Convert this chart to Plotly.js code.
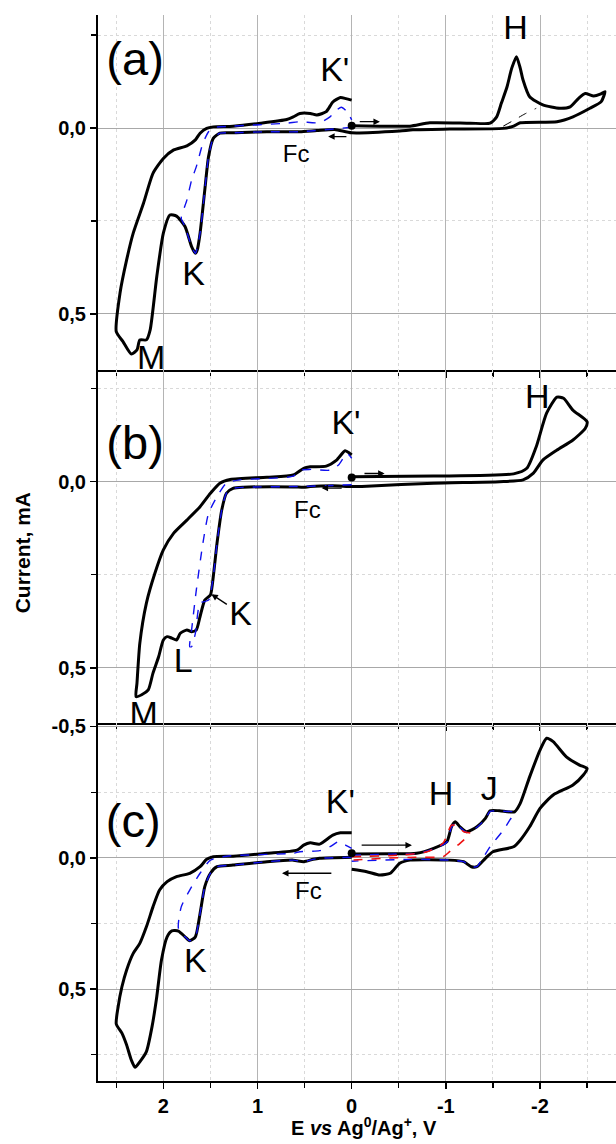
<!DOCTYPE html>
<html>
<head>
<meta charset="utf-8">
<script src="https://cdn.plot.ly/plotly-3.0.1.min.js"></script>
<style>html,body{margin:0;padding:0;background:#fff;}#chart{width:616px;height:1144px;}</style>
</head>
<body>
<div id="chart"></div>
<script>
// ---------- DATA (E in V vs Ag0/Ag+, current in mA) ----------
// Panel (a)
var aBlackE = [0,-0.30,-0.62,-0.83,-1.26,-1.47,-1.54,-1.59,-1.65,-1.70,-1.75,-1.79,-1.82,-1.89,-2.03,-2.21,-2.32,-2.41,-2.48,-2.57,-2.64,-2.69,-2.65,-2.53,-2.35,-2.18,-1.79,-1.72,-1.61,-1.04,-0.65,-0.51,0.00,0.18,0.37,0.55,0.62,0.90,1.26,1.40,1.47,1.52,1.56,1.61,1.64,1.66,1.70,1.77,1.86,1.93,2.00,2.07,2.14,2.18,2.25,2.28,2.34,2.43,2.50,2.46,2.39,2.32,2.21,2.11,2.00,1.89,1.75,1.66,1.61,1.54,1.47,1.26,0.97,0.69,0.62,0.55,0.44,0.37,0.27,0.20,0.12,0.06,0.00];
var aBlackI = [-0.006,-0.005,-0.005,-0.014,-0.013,-0.013,-0.030,-0.067,-0.111,-0.161,-0.192,-0.161,-0.129,-0.084,-0.062,-0.053,-0.057,-0.080,-0.093,-0.086,-0.091,-0.098,-0.071,-0.053,-0.030,-0.017,-0.014,-0.005,0.001,0.003,0.005,0.008,0.013,0.004,0.007,0.010,0.010,0.010,0.013,0.014,0.028,0.077,0.167,0.283,0.328,0.337,0.319,0.265,0.237,0.234,0.283,0.400,0.543,0.570,0.570,0.597,0.608,0.574,0.548,0.444,0.355,0.283,0.202,0.122,0.082,0.059,0.048,0.032,0.014,0.001,-0.003,-0.005,-0.013,-0.023,-0.030,-0.039,-0.039,-0.035,-0.044,-0.070,-0.082,-0.079,-0.075];
var aDashE = [-1.61,-1.73,-1.84,-1.96];
var aDashI = [-0.005,-0.022,-0.038,-0.053];
var aBlueE = [0.00,0.55,0.90,1.26,1.40,1.47,1.52,1.56,1.61,1.66,1.70,1.77,1.81,1.75,1.70,1.65,1.58,1.52,1.47,1.26,0.69,0.55,0.34,0.23,0.16,0.11,0.05,0.00];
var aBlueI = [-0.002,0.010,0.010,0.013,0.014,0.028,0.077,0.167,0.283,0.337,0.319,0.265,0.243,0.194,0.140,0.104,0.041,0.010,-0.001,-0.005,-0.013,-0.017,-0.014,-0.030,-0.048,-0.056,-0.044,-0.022];

// Panel (b)
var bBlackE = [0.00,-0.87,-1.72,-1.86,-1.96,-2.07,-2.18,-2.25,-2.35,-2.50,-2.48,-2.35,-2.18,-2.03,-1.93,-1.82,-1.57,-0.87,-0.16,0.00,
  0.20,0.44,0.51,0.62,1.15,1.26,1.33,1.38,1.43,1.47,1.50,1.56,1.61,1.65,1.70,1.75,1.82,1.86,1.91,1.96,2.00,2.05,2.11,2.16,2.23,2.29,2.28,2.25,2.18,2.09,2.00,1.89,1.75,1.61,1.50,1.40,1.29,0.90,0.62,0.51,0.44,0.27,0.16,0.07,0.02,0.00];
var bBlackI = [-0.013,-0.015,-0.021,-0.036,-0.094,-0.184,-0.227,-0.224,-0.192,-0.161,-0.143,-0.112,-0.085,-0.058,-0.023,-0.005,0.000,0.004,0.012,0.013,
  0.011,0.013,0.015,0.014,0.015,0.018,0.031,0.076,0.165,0.255,0.304,0.318,0.362,0.398,0.403,0.398,0.407,0.425,0.420,0.416,0.425,0.470,0.514,0.559,0.572,0.577,0.541,0.434,0.326,0.246,0.183,0.138,0.103,0.067,0.031,0.004,-0.006,-0.012,-0.018,-0.036,-0.040,-0.042,-0.058,-0.083,-0.076,-0.072];
var bBlueE = [0.00,0.20,0.44,0.62,1.15,1.26,1.33,1.38,1.43,1.47,1.52,1.61,1.66,1.70,1.72,1.70,1.65,1.58,1.52,1.43,1.33,1.19,0.62,0.55,0.44,0.23,0.14,0.05,0.00];
var bBlueI = [0.008,0.010,0.012,0.013,0.015,0.018,0.031,0.076,0.165,0.255,0.318,0.326,0.407,0.443,0.443,0.398,0.291,0.165,0.085,0.040,0.004,-0.005,-0.015,-0.031,-0.033,-0.031,-0.045,-0.076,-0.063];

// Panel (c)
var cBlackRightE = [0.00,-0.41,-0.69,-0.87,-1.01,-1.06,-1.10,-1.15,-1.22,-1.33,-1.42,-1.47,-1.57,-1.73,-1.79,-1.89,-2.00,-2.07,-2.14,-2.28,-2.42,-2.50,-2.46,-2.35,-2.14,-2.00,-1.89,-1.79,-1.72,-1.50,-1.42,-1.33,-1.27,-1.19,-1.04,-0.62,-0.51,-0.41,-0.30,-0.16,0.00];
var cBlackRightI = [-0.014,-0.015,-0.017,-0.036,-0.061,-0.118,-0.137,-0.118,-0.099,-0.118,-0.150,-0.179,-0.179,-0.175,-0.207,-0.308,-0.410,-0.455,-0.442,-0.384,-0.353,-0.340,-0.315,-0.277,-0.239,-0.188,-0.118,-0.067,-0.042,-0.023,0.002,0.034,0.034,0.015,0.009,0.009,0.021,0.059,0.066,0.053,0.044];
var cBlackLeftE = [0.00,0.34,0.41,0.51,0.62,0.90,1.26,1.43,1.50,1.56,1.61,1.66,1.72,1.77,1.84,1.91,1.96,2.02,2.07,2.12,2.18,2.25,2.30,2.34,2.39,2.44,2.50,2.48,2.44,2.39,2.32,2.25,2.18,2.11,2.04,1.96,1.86,1.72,1.61,1.54,1.47,1.26,0.90,0.58,0.51,0.44,0.34,0.20,0.12,0.00];
var cBlackLeftI = [-0.002,0.002,0.006,0.015,0.009,0.015,0.028,0.034,0.059,0.110,0.212,0.301,0.316,0.301,0.279,0.278,0.301,0.389,0.529,0.643,0.738,0.777,0.798,0.770,0.713,0.668,0.633,0.567,0.491,0.427,0.364,0.326,0.263,0.187,0.123,0.091,0.072,0.059,0.034,0.006,-0.004,-0.006,-0.017,-0.029,-0.048,-0.057,-0.052,-0.086,-0.095,-0.095];
var cBlueLeftE = [0.00,0.34,0.41,0.51,0.62,0.90,1.26,1.43,1.50,1.56,1.61,1.66,1.72,1.77,1.84,1.81,1.72,1.61,1.50,1.33,0.62,0.55,0.34,0.23,0.14,0.05,0.00];
var cBlueLeftI = [-0.002,0.002,0.006,0.015,0.009,0.015,0.028,0.034,0.059,0.110,0.212,0.301,0.316,0.301,0.268,0.187,0.123,0.059,0.009,-0.006,-0.017,-0.023,-0.027,-0.042,-0.061,-0.045,-0.036];
var cBlueRightE = [0.00,-0.41,-0.69,-0.87,-1.01,-1.06,-1.10,-1.15,-1.22,-1.33,-1.42,-1.47,-1.57,-1.73,-1.68,-1.61,-1.47,-1.38,-1.33,-1.27,-1.19,-1.04,-0.62,0.00];
var cBlueRightI = [-0.010,-0.014,-0.016,-0.034,-0.059,-0.116,-0.134,-0.116,-0.097,-0.116,-0.148,-0.177,-0.177,-0.173,-0.144,-0.105,-0.042,0.009,0.034,0.034,0.015,0.009,0.006,0.013];
var cRedE = [0.00,-0.51,-0.80,-0.97,-1.06,-1.12,-1.19,-1.26,-1.15,-1.04,-0.97,-0.69,-0.34,0.00];
var cRedI = [-0.004,-0.010,-0.023,-0.055,-0.124,-0.121,-0.099,-0.093,-0.055,-0.023,-0.004,-0.002,0.002,0.009];

// Starting-point dots (E = 0)
var dotE = [0, 0, 0];
var dotI = [-0.006, -0.011, -0.017];

// Tick labels
var xTickVals = [2, 1, 0, -1, -2];
var xTickText = ['2', '1', '0', '-1', '-2'];
var xMinorVals = [2.5, 1.5, 0.5, -0.5, -1.5, -2.5];
var yTickVals = [-0.5, 0, 0.5];
var yTickText = ['-0,5', '0,0', '0,5'];
var yMinorVals = [-0.25, 0.25, 0.75];

// ---------- STYLE / LAYOUT ----------
var FONT = 'Liberation Sans, Arial, sans-serif';
var traces = [];
function line(x, y, xa, ya, color, width, dash) {
  traces.push({x: x, y: y, xaxis: xa, yaxis: ya, type: 'scatter', mode: 'lines',
    line: {color: color, width: width, dash: dash || 'solid', shape: 'spline', smoothing: 0.6},
    hoverinfo: 'skip'});
}
function labels(xa, ya, items) {
  items.forEach(function (it) {
    traces.push({x: [it[1]], y: [it[2]], xaxis: xa, yaxis: ya, type: 'scatter', mode: 'text',
      text: [it[0]], textposition: 'middle center', cliponaxis: true,
      textfont: {family: FONT, size: it[3], color: '#000'}, hoverinfo: 'skip'});
  });
}
// panel a
line(aBlackE, aBlackI, 'x', 'y', '#000', 3);
line(aDashE, aDashI, 'x', 'y', '#000', 1, 'dash');
line(aBlueE, aBlueI, 'x', 'y', '#1010ee', 1.4, 'dash');
// panel b
line(bBlackE, bBlackI, 'x2', 'y2', '#000', 3);
line(bBlueE, bBlueI, 'x2', 'y2', '#1010ee', 1.4, 'dash');
// panel c
line(cBlackRightE, cBlackRightI, 'x3', 'y3', '#000', 3);
line(cBlackLeftE, cBlackLeftI, 'x3', 'y3', '#000', 3);
line(cBlueLeftE, cBlueLeftI, 'x3', 'y3', '#1010ee', 1.4, 'dash');
line(cBlueRightE, cBlueRightI, 'x3', 'y3', '#1010ee', 1.4, 'dash');
line(cRedE, cRedI, 'x3', 'y3', '#ee1010', 1.6, 'dash');
// dots
['x', 'x2', 'x3'].forEach(function (xa, i) {
  traces.push({x: [dotE[i]], y: [dotI[i]], xaxis: xa, yaxis: ['y', 'y2', 'y3'][i], type: 'scatter',
    mode: 'markers', marker: {color: '#000', size: 8}, hoverinfo: 'skip'});
});
// peak labels
labels('x', 'y', [['(a)', 2.30, -0.175, 47], ["K'", 0.18, -0.150, 34], ['H', -1.74, -0.263, 34],
  ['K', 1.68, 0.400, 34], ['M', 2.13, 0.625, 34], ['Fc', 0.59, 0.075, 24]]);
labels('x2', 'y2', [['(b)', 2.30, -0.093, 47], ["K'", 0.06, -0.152, 34], ['H', -1.97, -0.221, 34],
  ['K', 1.18, 0.362, 34], ['L', 1.79, 0.487, 34], ['M', 2.21, 0.630, 34], ['Fc', 0.47, 0.082, 24]]);
labels('x3', 'y3', [['(c)', 2.32, -0.125, 47], ["K'", 0.12, -0.201, 34], ['H', -0.95, -0.232, 34],
  ['J', -1.46, -0.254, 34], ['K', 1.66, 0.401, 34], ['Fc', 0.46, 0.134, 24]]);

function arrow(xa, ya, x0, y0, x1, y1) {
  return {x: x1, y: y1, ax: x0, ay: y0, xref: xa, yref: ya, axref: xa, ayref: ya, text: '',
    showarrow: true, arrowhead: 2, arrowsize: 1, arrowwidth: 1.3, arrowcolor: '#000'};
}

function xAxis(anchor, showLabels) {
  return {anchor: anchor, domain: [0, 1], range: [2.694, -2.807], tickmode: 'array',
    tickvals: xTickVals, ticktext: xTickText, showticklabels: showLabels,
    ticks: 'outside', ticklen: 6, tickwidth: 1.5, tickcolor: '#000',
    showline: true, linecolor: '#000', linewidth: 2, mirror: false,
    showgrid: true, gridcolor: '#b4b4b4', gridwidth: 1, zeroline: false,
    tickfont: {family: FONT, size: 20, color: '#000', weight: 'bold'},
    minor: {tickmode: 'array', tickvals: xMinorVals, ticks: 'outside', ticklen: 5, tickwidth: 1.2,
      tickcolor: '#000', showgrid: true, gridcolor: '#d9d9d9', griddash: 'dot', gridwidth: 1}};
}
function yAxis(anchor, domain, range) {
  return {anchor: anchor, domain: domain, range: range, tickmode: 'array',
    tickvals: yTickVals, ticktext: yTickText,
    ticks: 'outside', ticklen: 6, tickwidth: 1.5, tickcolor: '#000',
    showline: true, linecolor: '#000', linewidth: 2,
    showgrid: true, gridcolor: '#a8a8a8', gridwidth: 1, zeroline: false,
    tickfont: {family: FONT, size: 20, color: '#000', weight: 'bold'},
    minor: {tickmode: 'array', tickvals: yMinorVals, ticks: 'outside', ticklen: 5, tickwidth: 1.2,
      tickcolor: '#000', showgrid: true, gridcolor: '#d9d9d9', griddash: 'dot', gridwidth: 1}};
}

var layout = {
  width: 616, height: 1144, showlegend: false,
  paper_bgcolor: '#fff', plot_bgcolor: '#fff',
  margin: {l: 98, r: 0, t: 15, b: 63},
  font: {family: FONT, color: '#000'},
  xaxis: xAxis('y', false),
  xaxis2: xAxis('y2', false),
  xaxis3: xAxis('y3', true),
  yaxis: yAxis('x', [0.6670, 1], [0.651, -0.304]),
  yaxis2: yAxis('x2', [0.3358, 0.6670], [0.648, -0.300]),
  yaxis3: yAxis('x3', [0, 0.3358], [0.850, -0.513]),
  annotations: [
    arrow('x', 'y', -0.07, -0.017, -0.30, -0.017),
    arrow('x', 'y', 0.04, 0.023, 0.25, 0.023),
    arrow('x2', 'y2', -0.12, -0.022, -0.35, -0.022),
    arrow('x2', 'y2', 0.09, 0.017, 0.32, 0.017),
    arrow('x2', 'y2', 1.31, 0.332, 1.49, 0.302),
    arrow('x3', 'y3', -0.09, -0.048, -0.64, -0.048),
    arrow('x3', 'y3', 0.20, 0.059, 0.74, 0.059),
    {xref: 'paper', yref: 'paper', x: -0.1467, y: 0.495, xanchor: 'center', yanchor: 'middle',
      text: '<b>Current, mA</b>', textangle: -90,
      showarrow: false, font: {family: FONT, size: 21, color: '#000'}},
    {xref: 'paper', yref: 'paper', x: 0.5135, y: -0.0430, xanchor: 'center', yanchor: 'middle',
      text: '<b>E <i>vs</i> Ag<sup>0</sup>/Ag<sup>+</sup>, V</b>',
      showarrow: false, font: {family: FONT, size: 20, color: '#000'}}
  ]
};

Plotly.newPlot('chart', traces, layout, {displayModeBar: false, staticPlot: true});
</script>
</body>
</html>
